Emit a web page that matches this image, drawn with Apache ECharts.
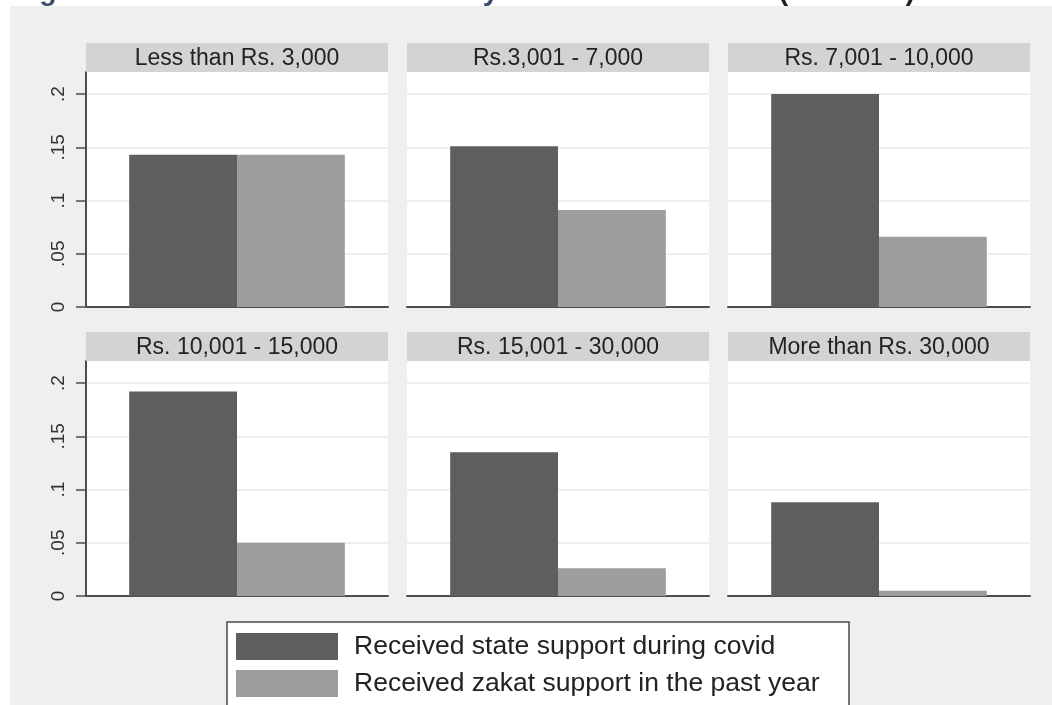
<!DOCTYPE html>
<html>
<head>
<meta charset="utf-8">
<script src="https://cdn.jsdelivr.net/npm/echarts@6/dist/echarts.min.js"></script>
<style>
  html, body { margin: 0; padding: 0; background: #fff; }
  #chart { width: 1052px; height: 705px; }
</style>
</head>
<body>
<div id="chart"></div>
<script>
// Share of households receiving support, by monthly income group
const incomeGroups = [
  'Less than Rs. 3,000', 'Rs.3,001 - 7,000', 'Rs. 7,001 - 10,000',
  'Rs. 10,001 - 15,000', 'Rs. 15,001 - 30,000', 'More than Rs. 30,000'
];
const stateSupport = [0.143, 0.151, 0.200, 0.192, 0.135, 0.088];
const zakatSupport = [0.143, 0.091, 0.066, 0.050, 0.026, 0.005];
const seriesNames = ['Received state support during covid', 'Received zakat support in the past year'];
const yTickValues = [0, 0.05, 0.1, 0.15, 0.2];
const yTickLabels = ['0', '.05', '.1', '.15', '.2'];
const titleText = 'Figure 5: Zakat and State Benefit by Income distribution ';
const titleTail = '(Pakistan)';

const FONT = '"Liberation Sans", Arial, sans-serif';
const DARK = '#5e5e5e';
const LIGHT = '#9d9d9d';

// facet layout: 3 columns x 2 rows
const colLeft = [86, 407, 728];
const panelW = 302;
const headerTop = [43, 332];
const headerH = 29;
const plotH = 235;
const Y_MAX = 0.2207;

const grids = [], xAxes = [], yAxes = [], series = [], graphics = [];

// page background, heading and legend frame
graphics.push({ type: 'rect', z: -10, shape: { x: 10, y: 6, width: 1042, height: 699 }, style: { fill: '#efefef' } });
graphics.push({
  type: 'text', x: 14, y: 6.5, z: 5,
  style: {
    text: '{a|' + titleText + '}{b|' + titleTail + '}',
    verticalAlign: 'bottom',
    rich: {
      a: { fontFamily: FONT, fontSize: 28.5, fontWeight: 'bold', fill: '#3b4b6b' },
      b: { fontFamily: FONT, fontSize: 28.5, fontWeight: 'bold', fill: '#1e1e1e' }
    }
  }
});
graphics.push({ type: 'rect', z: 1, shape: { x: 227, y: 622, width: 622, height: 100 }, style: { fill: '#fff', stroke: '#4a4a4a', lineWidth: 1.5 } });

incomeGroups.forEach((name, i) => {
  const col = i % 3, row = Math.floor(i / 3);
  const left = colLeft[col];
  const top = headerTop[row] + headerH;

  graphics.push({ type: 'rect', z: 1, shape: { x: left, y: headerTop[row], width: panelW, height: headerH }, style: { fill: '#d3d3d3' } });
  graphics.push({
    type: 'text', z: 2, x: left + panelW / 2, y: headerTop[row] + headerH / 2 + 1,
    style: { text: name, fontFamily: FONT, fontSize: 23, fill: '#222', align: 'center', verticalAlign: 'middle' }
  });

  grids.push({ left: left, top: top, width: panelW, height: plotH, show: true, backgroundColor: '#fff', borderWidth: 0 });
  xAxes.push({
    gridIndex: i, type: 'category', data: [name],
    axisLine: { show: true, lineStyle: { color: '#4d4d4d', width: 2 } },
    axisTick: { show: false }, axisLabel: { show: false }
  });
  const first = col === 0;
  yAxes.push({
    gridIndex: i, type: 'value', min: 0, max: Y_MAX,
    axisLine: { show: first, lineStyle: { color: '#4d4d4d', width: 2 } },
    axisTick: { show: first, length: 10, customValues: yTickValues, lineStyle: { color: '#4d4d4d', width: 1.5 } },
    axisLabel: {
      show: first, customValues: yTickValues, rotate: 90, margin: 18,
      fontFamily: FONT, fontSize: 19, color: '#333',
      formatter: v => yTickLabels[yTickValues.findIndex(t => Math.abs(t - v) < 1e-9)] ?? ''
    },
    splitLine: { show: true, lineStyle: { color: '#e9e9e9', width: 1.5 } }
  });
  series.push({
    name: seriesNames[0], type: 'bar', xAxisIndex: i, yAxisIndex: i,
    data: [stateSupport[i]], itemStyle: { color: DARK },
    barGap: 0, barCategoryGap: '28.6%', silent: true
  });
  series.push({
    name: seriesNames[1], type: 'bar', xAxisIndex: i, yAxisIndex: i,
    data: [zakatSupport[i]], itemStyle: { color: LIGHT },
    barGap: 0, barCategoryGap: '28.6%', silent: true
  });
});

const chart = echarts.init(document.getElementById('chart'), null, { renderer: 'canvas' });
chart.setOption({
  backgroundColor: '#fff',
  animation: false,
  grid: grids,
  xAxis: xAxes,
  yAxis: yAxes,
  series: series,
  graphic: graphics,
  legend: {
    data: seriesNames, orient: 'vertical', left: 236, top: 633, padding: 0,
    itemWidth: 102, itemHeight: 27, itemGap: 10, icon: 'rect', z: 10,
    selectedMode: false,
    textStyle: { fontFamily: FONT, fontSize: 26.5, color: '#222', padding: [0, 0, 0, 11] }
  }
});
</script>
</body>
</html>
